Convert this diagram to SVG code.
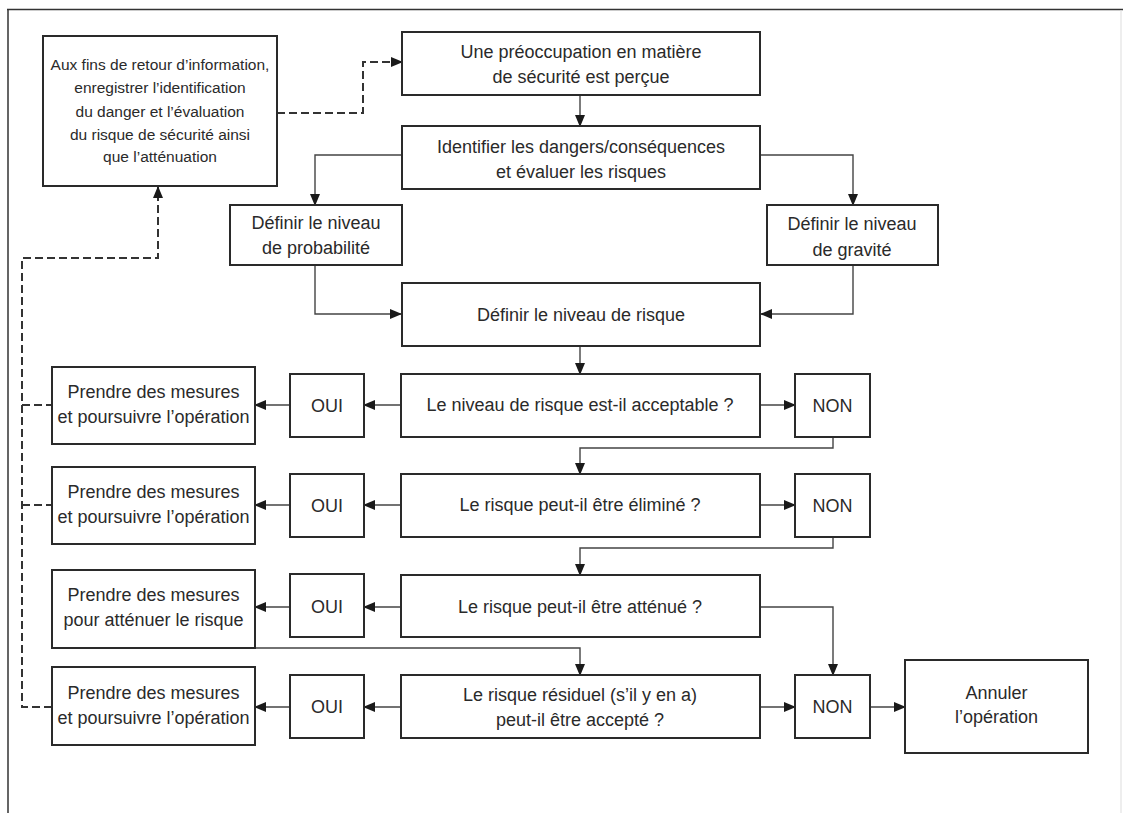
<svg xmlns="http://www.w3.org/2000/svg" width="1123" height="813" viewBox="0 0 1123 813">
<style>
.box{fill:#fff;stroke:#2a2a2a;stroke-width:2}
.t{font-family:"Liberation Sans",Arial,sans-serif;font-size:18px;fill:#2a2a2a;text-anchor:middle}
.s{font-size:15.5px}
.c{fill:none;stroke:#444;stroke-width:1.4;marker-end:url(#ah)}
.d{fill:none;stroke:#333;stroke-width:2;stroke-dasharray:8 4}
.da{marker-end:url(#ah)}
</style>
<defs>
<marker id="ah" markerUnits="userSpaceOnUse" markerWidth="12" markerHeight="10" refX="11" refY="5" orient="auto">
<path d="M0,0 L12,5 L0,10 z" fill="#1a1a1a"/>
</marker>
</defs>
<rect width="1123" height="813" fill="#fff"/>
<g id="frame">
<path d="M7,9.5 H1123 M8,9 V813" fill="none" stroke="#333" stroke-width="1.5"/>
<path d="M1121,10 V813" fill="none" stroke="#ddd" stroke-width="1"/>
</g>
<g id="connectors">
<path class="c" d="M580,95 V126"/>
<path class="c" d="M402,155 H315 V205"/>
<path class="c" d="M760,155 H853 V205"/>
<path class="c" d="M315,265 V314 H401"/>
<path class="c" d="M853,265 V314 H761"/>
<path class="c" d="M580,346 V374"/>
<path class="c" d="M760,405 H795"/>
<path class="c" d="M401,405 H364"/>
<path class="c" d="M290,405 H255"/>
<path class="c" d="M833,437 V448 H580 V474"/>
<path class="c" d="M760,505 H795"/>
<path class="c" d="M401,505 H364"/>
<path class="c" d="M290,505 H255"/>
<path class="c" d="M833,537 V548 H580 V575"/>
<path class="c" d="M401,607 H364"/>
<path class="c" d="M290,607 H255"/>
<path class="c" d="M760,607 H833 V675"/>
<path class="c" d="M255,648 H580 V675"/>
<path class="c" d="M760,707 H795"/>
<path class="c" d="M401,707 H364"/>
<path class="c" d="M290,707 H255"/>
<path class="c" d="M870,707 H905"/>
<path class="d da" d="M277,113 H363 V62 H402"/>
<path class="d da" d="M52,707 H22 V258 H158 V187"/>
<path class="d" d="M22,405 H52 M22,505 H52"/>
</g>
<g id="n_feedback">
<rect class="box" x="43" y="36" width="234" height="150"/>
<text class="t s" x="160" y="70">Aux fins de retour d’information,</text>
<text class="t s" x="160" y="93">enregistrer l’identification</text>
<text class="t s" x="160" y="117">du danger et l’évaluation</text>
<text class="t s" x="160" y="140">du risque de sécurité ainsi</text>
<text class="t s" x="160" y="162">que l’atténuation</text>
</g>
<g id="n_une">
<rect class="box" x="402" y="32" width="358" height="63"/>
<text class="t" x="581" y="58">Une préoccupation en matière</text>
<text class="t" x="581" y="83">de sécurité est perçue</text>
</g>
<g id="n_ident">
<rect class="box" x="402" y="126" width="358" height="63"/>
<text class="t" x="581" y="153">Identifier les dangers/conséquences</text>
<text class="t" x="581" y="178">et évaluer les risques</text>
</g>
<g id="n_prob">
<rect class="box" x="230" y="205" width="172" height="60"/>
<text class="t" x="316" y="229">Définir le niveau</text>
<text class="t" x="316" y="254">de probabilité</text>
</g>
<g id="n_grav">
<rect class="box" x="767" y="205" width="171" height="60"/>
<text class="t" x="852" y="230">Définir le niveau</text>
<text class="t" x="852" y="256">de gravité</text>
</g>
<g id="n_risk">
<rect class="box" x="402" y="283" width="358" height="63"/>
<text class="t" x="581" y="321">Définir le niveau de risque</text>
</g>
<g id="n_q1">
<rect class="box" x="401" y="374" width="359" height="63"/>
<text class="t" x="580" y="411">Le niveau de risque est-il acceptable ?</text>
</g>
<g id="n_oui1">
<rect class="box" x="290" y="374" width="74" height="63"/>
<text class="t" x="327" y="412">OUI</text>
</g>
<g id="n_prendre1">
<rect class="box" x="52" y="367" width="203" height="77"/>
<text class="t" x="153.5" y="398">Prendre des mesures</text>
<text class="t" x="153.5" y="423">et poursuivre l’opération</text>
</g>
<g id="n_non1">
<rect class="box" x="795" y="374" width="75" height="63"/>
<text class="t" x="832.5" y="412">NON</text>
</g>
<g id="n_q2">
<rect class="box" x="401" y="474" width="359" height="63"/>
<text class="t" x="580" y="511">Le risque peut-il être éliminé ?</text>
</g>
<g id="n_oui2">
<rect class="box" x="290" y="474" width="74" height="63"/>
<text class="t" x="327" y="512">OUI</text>
</g>
<g id="n_prendre2">
<rect class="box" x="52" y="467" width="203" height="77"/>
<text class="t" x="153.5" y="498">Prendre des mesures</text>
<text class="t" x="153.5" y="523">et poursuivre l’opération</text>
</g>
<g id="n_non2">
<rect class="box" x="795" y="474" width="75" height="63"/>
<text class="t" x="832.5" y="512">NON</text>
</g>
<g id="n_q3">
<rect class="box" x="401" y="575" width="359" height="62"/>
<text class="t" x="580" y="613">Le risque peut-il être atténué ?</text>
</g>
<g id="n_oui3">
<rect class="box" x="290" y="574" width="74" height="63"/>
<text class="t" x="327" y="613">OUI</text>
</g>
<g id="n_prendre3">
<rect class="box" x="52" y="570" width="203" height="78"/>
<text class="t" x="153.5" y="601">Prendre des mesures</text>
<text class="t" x="153.5" y="626">pour atténuer le risque</text>
</g>
<g id="n_q4">
<rect class="box" x="401" y="675" width="359" height="63"/>
<text class="t" x="580" y="701">Le risque résiduel (s’il y en a)</text>
<text class="t" x="580" y="726">peut-il être accepté ?</text>
</g>
<g id="n_oui4">
<rect class="box" x="290" y="675" width="74" height="63"/>
<text class="t" x="327" y="713">OUI</text>
</g>
<g id="n_prendre4">
<rect class="box" x="52" y="667" width="203" height="78"/>
<text class="t" x="153.5" y="699">Prendre des mesures</text>
<text class="t" x="153.5" y="724">et poursuivre l’opération</text>
</g>
<g id="n_non4">
<rect class="box" x="795" y="675" width="75" height="63"/>
<text class="t" x="832.5" y="713">NON</text>
</g>
<g id="n_annuler">
<rect class="box" x="905" y="660" width="183" height="93"/>
<text class="t" x="996.5" y="699">Annuler</text>
<text class="t" x="996.5" y="723">l’opération</text>
</g>
</svg>
